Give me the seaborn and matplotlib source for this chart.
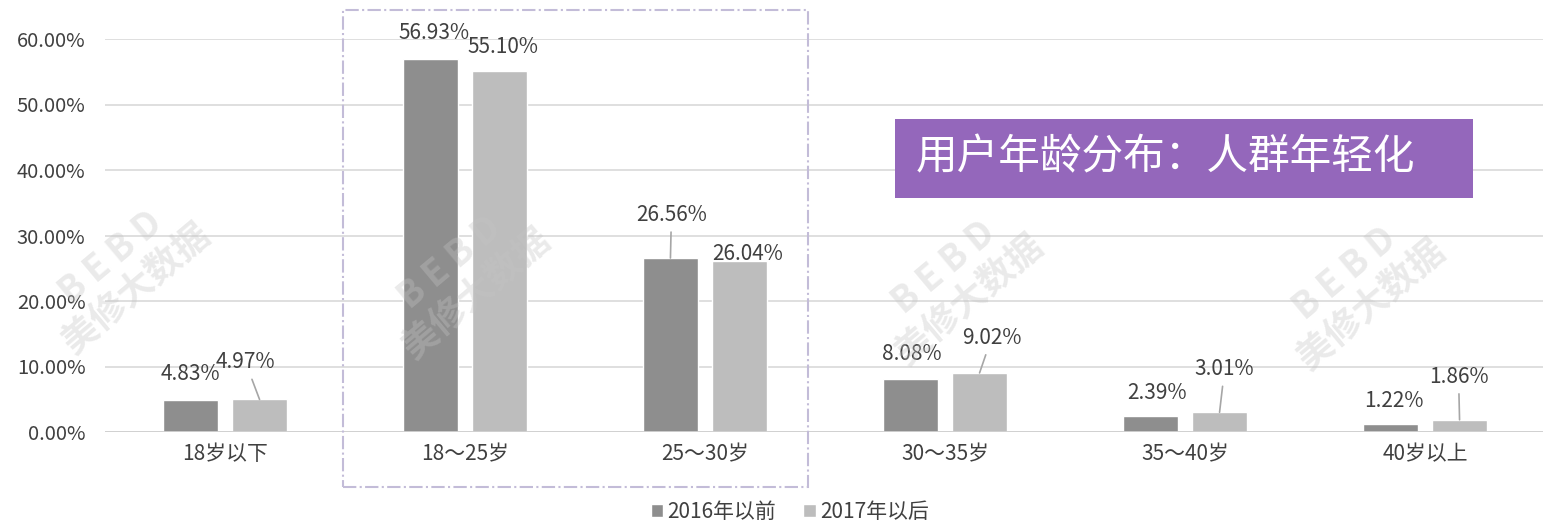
import numpy as np
import pandas as pd
import matplotlib
matplotlib.use('Agg')
import matplotlib.pyplot as plt
import matplotlib.patches as patches
import seaborn as sns

# data
age_groups = ['18岁以下', '18～25岁', '25～30岁', '30～35岁', '35～40岁', '40岁以上']
before_2016 = [4.83, 56.93, 26.56, 8.08, 2.39, 1.22]
after_2017 = [4.97, 55.10, 26.04, 9.02, 3.01, 1.86]
series_names = ['2016年以前', '2017年以后']
y_ticks = [0, 10, 20, 30, 40, 50, 60]

# label offsets in pixels (dx, dy) from bar top, and whether a leader line is drawn
offsets_2016 = [(0, 26), (4, 26), (1, 43), (1, 25), (7, 23), (3, 23)]
offsets_2017 = [(-14, 37), (3, 24), (8, 7), (12, 35), (5, 43), (-1, 43)]
leader_2016 = [False, False, True, False, False, False]
leader_2017 = [True, False, False, True, True, True]

sns.set_style('white')
plt.rcParams['font.family'] = ['Noto Sans CJK SC', 'DejaVu Sans']

df = pd.DataFrame({
    'group': age_groups * 2,
    'value': before_2016 + after_2017,
    'series': [series_names[0]] * 6 + [series_names[1]] * 6,
})

fig = plt.figure(figsize=(15.43, 5.25), dpi=100)
ax = fig.add_axes([105 / 1543, (525 - 432) / 525, 1440 / 1543, 393 / 525])

palette = {series_names[0]: '#8e8e8e', series_names[1]: '#bdbdbd'}
sns.barplot(data=df, x='group', y='value', hue='series', palette=palette,
            width=0.575, gap=0.217, ax=ax, saturation=1, legend=True)

ax.set_ylim(0, 60)
ax.set_xlim(-0.5, 5.5)
ax.set_yticks(y_ticks)
ax.set_yticklabels([f'{t:.2f}%' for t in y_ticks], fontsize=14.5, color='#404040')
ax.tick_params(axis='x', labelsize=15, colors='#404040', length=0, pad=8)
ax.tick_params(axis='y', length=0, pad=14)
ax.set_xlabel('')
ax.set_ylabel('')
ax.grid(axis='y', color='#d9d9d9', linewidth=1.2)
ax.set_axisbelow(True)
for s in ax.spines.values():
    s.set_visible(False)
ax.axhline(0, color='#d0d0d0', linewidth=1.3, zorder=1)

px = 0.72  # points per pixel at dpi 100
for h, (vals, offs, leads) in enumerate([(before_2016, offsets_2016, leader_2016),
                                         (after_2017, offsets_2017, leader_2017)]):
    sign = -1 if h == 0 else 1
    for i, v in enumerate(vals):
        xb = i + sign * 0.144
        dx, dy = offs[i]
        arrow = dict(arrowstyle='-', color='#a6a6a6', lw=1.2, shrinkA=2, shrinkB=0) if leads[i] else None
        ax.annotate(f'{v:.2f}%', xy=(xb, v), xytext=(dx * px, dy * px), textcoords='offset points',
                    ha='center', va='center', fontsize=15, color='#404040', arrowprops=arrow)

leg = ax.legend(loc='center', bbox_to_anchor=(790 / 1543, 13 / 525), bbox_transform=fig.transFigure,
                ncol=2, frameon=False, fontsize=15, handlelength=0.6, handleheight=0.6,
                handletextpad=0.2, columnspacing=1.3, borderpad=0)
for t in leg.get_texts():
    t.set_color('#404040')

# watermark text
for wx, wy in [(0.08, 0.48), (0.30, 0.47), (0.62, 0.46), (0.88, 0.45)]:
    fig.text(wx, wy, 'B E B D\n美修大数据', rotation=40, fontsize=26, color='#c4c4c4',
             alpha=0.35, ha='center', va='center', fontweight='bold', linespacing=1.1)

# title box
fig.patches.append(patches.Rectangle((895 / 1543, (525 - 198) / 525), 578 / 1543, 79 / 525,
                                     transform=fig.transFigure, facecolor='#9467bb',
                                     edgecolor='none', zorder=5))
fig.text(916 / 1543, (525 - 158) / 525, '用户年龄分布：人群年轻化', fontsize=30, color='white',
         ha='left', va='center', zorder=6)

# highlight box
fig.patches.append(patches.Rectangle((343 / 1543, (525 - 487) / 525), 465 / 1543, 477 / 525,
                                     transform=fig.transFigure, facecolor='none',
                                     edgecolor='#c3bcd8', linewidth=1.5, linestyle='-.', zorder=4))

fig.savefig('out.png', dpi=100)
